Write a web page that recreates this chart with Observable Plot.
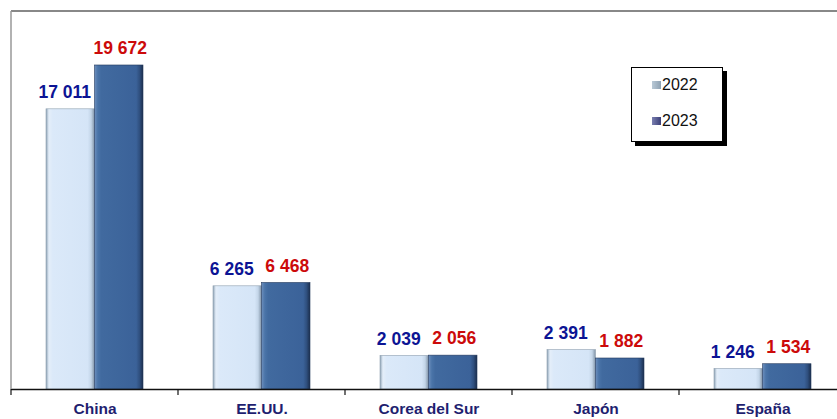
<!DOCTYPE html>
<html>
<head>
<meta charset="utf-8">
<script src="https://cdn.jsdelivr.net/npm/d3@7"></script>
<script src="https://cdn.jsdelivr.net/npm/@observablehq/plot@0.6"></script>
<style>
  html, body { margin: 0; padding: 0; background: #fff; }
  #wrap { position: relative; width: 837px; height: 419px; overflow: hidden; }
  #legend { position: absolute; left: 631px; top: 67px; width: 90px; height: 73px;
    border: 1px solid #000; background: #fff; box-shadow: 4px 4px 0 #000;
    font-family: Arial, "Liberation Sans", sans-serif; font-size: 16px; color: #111; }
  .li { position: absolute; left: 20px; display: flex; align-items: center; }
  .sw { width: 9px; height: 8px; margin-right: 1px; }
</style>
</head>
<body>
<div id="wrap"></div>
<script>
const categories = ["China", "EE.UU.", "Corea del Sur", "Japón", "España"];
const years = ["2022", "2023"];
const values2022 = [17011, 6265, 2039, 2391, 1246];
const values2023 = [19672, 6468, 2056, 1882, 1534];

const fmt = d3.formatLocale({decimal: ",", thousands: " ", grouping: [3]}).format(",d");

const rows2022 = categories.map((c, i) => ({category: c, year: years[0], value: values2022[i]}));
const rows2023 = categories.map((c, i) => ({category: c, year: years[1], value: values2023[i]}));

const W = 837, H = 419;
const left = 11, bandW = 167;
const outer = 35, barW = 48.5;
const yMax = 22950;

const plot = Plot.plot({
  width: W,
  height: H,
  marginTop: 11,
  marginBottom: 30,
  marginLeft: left,
  marginRight: 0,
  style: {background: "#fff", overflow: "visible"},
  x: {domain: categories, range: [left, left + bandW * categories.length], padding: 0, axis: null},
  y: {domain: [0, yMax], axis: null},
  marks: [
    Plot.barY(rows2022, {x: "category", y: "value", fill: "url(#g22)", stroke: "#8fa0b0", strokeWidth: 0.6,
      insetLeft: outer, insetRight: bandW - outer - barW}),
    Plot.barY(rows2023, {x: "category", y: "value", fill: "url(#g23)", stroke: "#24395c", strokeWidth: 0.6,
      insetLeft: outer + barW, insetRight: outer}),
    Plot.ruleY([0], {stroke: "#111", strokeWidth: 1.3}),
    Plot.text(rows2022, {x: "category", y: "value", text: d => fmt(d.value), dx: -(barW / 2) - 6, dy: -17,
      fill: "#0c1494", fontWeight: "bold", fontSize: 17.5, fontFamily: "Arial, 'Liberation Sans', sans-serif"}),
    Plot.text(rows2023, {x: "category", y: "value", text: d => fmt(d.value), dx: barW / 2 + 1, dy: -17,
      fill: "#cc0a0a", fontWeight: "bold", fontSize: 17.5, fontFamily: "Arial, 'Liberation Sans', sans-serif"}),
    Plot.text(categories, {x: d => d, y: 0, dy: 20, text: d => d, fill: "#1f1f70", fontWeight: "bold",
      fontSize: 15.5, fontFamily: "Arial, 'Liberation Sans', sans-serif"})
  ]
});

const svg = d3.select(plot);
const defs = svg.insert("defs", ":first-child");
function grad(id, stops) {
  const g = defs.append("linearGradient").attr("id", id).attr("x1", 0).attr("x2", 1).attr("y1", 0).attr("y2", 0);
  stops.forEach(([o, c]) => g.append("stop").attr("offset", o).attr("stop-color", c));
}
grad("g22", [[0, "#8ea3b6"], [0.06, "#e4eef9"], [0.14, "#dbe9f9"], [0.86, "#d5e5f7"], [0.93, "#c3d5e8"], [1, "#8193a6"]]);
grad("g23", [[0, "#6d8fbd"], [0.07, "#4a74a8"], [0.14, "#416a9f"], [0.86, "#3b6299"], [0.93, "#2f4f7e"], [1, "#1b2e4d"]]);
grad("l22", [[0, "#b9c9d6"], [1, "#8ea1b2"]]);
grad("l23", [[0, "#7a7fb0"], [1, "#3b3f78"]]);

// frame lines and category ticks using the plot's scales
const xs = plot.scale("x"), ys = plot.scale("y");
const y0 = ys.apply(0), yTop = ys.apply(yMax);
const g = svg.append("g");
g.append("line").attr("x1", left).attr("x2", W).attr("y1", yTop).attr("y2", yTop)
  .attr("stroke", "#888").attr("stroke-width", 2);
g.append("line").attr("x1", left).attr("x2", left).attr("y1", yTop).attr("y2", y0)
  .attr("stroke", "#999").attr("stroke-width", 1.5);
categories.concat([null]).forEach((c, i) => {
  const x = c === null ? xs.apply(categories[i - 1]) + xs.bandwidth : xs.apply(c);
  g.append("line").attr("x1", x).attr("x2", x).attr("y1", y0).attr("y2", y0 + 6)
    .attr("stroke", "#111").attr("stroke-width", 1.2);
});

const wrap = document.getElementById("wrap");
wrap.appendChild(plot);
const legend = document.createElement("div");
legend.id = "legend";
legend.innerHTML = years.map((y, i) =>
  `<div class="li" style="top:${i === 0 ? 8 : 44}px"><svg class="sw" width="9" height="8"><rect width="9" height="8" fill="url(#l2${2 + i})"/></svg>${y}</div>`
).join("");
wrap.appendChild(legend);
</script>
</body>
</html>
